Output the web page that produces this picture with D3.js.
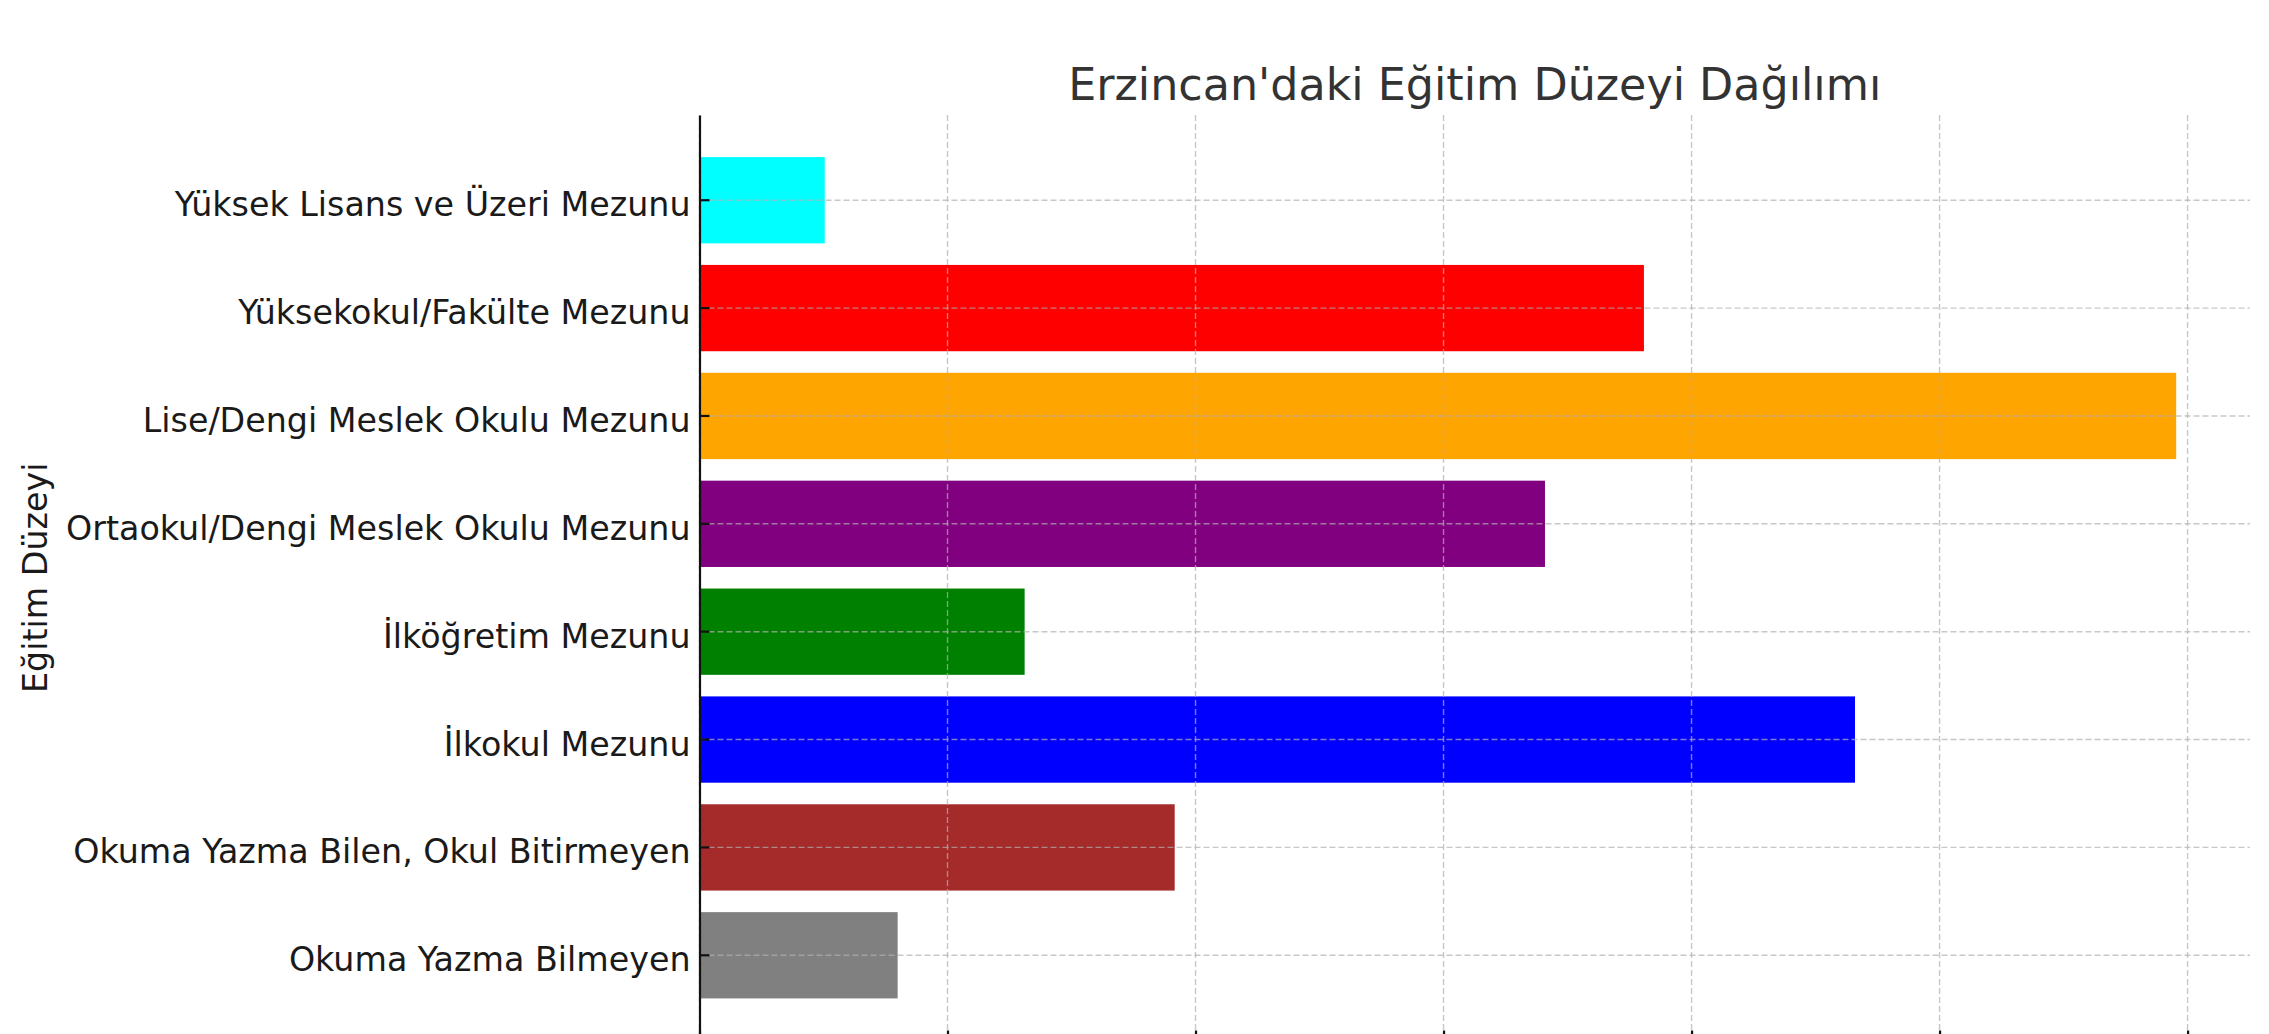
<!DOCTYPE html>
<html>
<head>
<meta charset="utf-8">
<script src="https://cdn.jsdelivr.net/npm/d3@7"></script>
<style>
  html, body { margin: 0; padding: 0; background: #fff; overflow: hidden; }
  svg { display: block; font-family: "DejaVu Sans", sans-serif; }
</style>
</head>
<body>
<svg id="chart" width="2269" height="1034"></svg>
<script>
// Data (bottom-to-top order, as drawn by the original barh)
const categories = [
  "Okuma Yazma Bilmeyen",
  "Okuma Yazma Bilen, Okul Bitirmeyen",
  "İlkokul Mezunu",
  "İlköğretim Mezunu",
  "Ortaokul/Dengi Meslek Okulu Mezunu",
  "Lise/Dengi Meslek Okulu Mezunu",
  "Yüksekokul/Fakülte Mezunu",
  "Yüksek Lisans ve Üzeri Mezunu"
];
const values = [7990, 19160, 46590, 13110, 34090, 59540, 38080, 5050];
const barColors = ["gray", "brown", "blue", "green", "purple", "orange", "red", "cyan"];
// x tick positions (their labels lie below the visible picture in the reference)
const xTicks = [0, 10000, 20000, 30000, 40000, 50000, 60000];
const titleText = "Erzincan'daki Eğitim Düzeyi Dağılımı";
const yLabelText = "Eğitim Düzeyi";

const W = 2269, H = 1034;
const m = { left: 699.5, right: 2250, top: 115, bottom: 1040.5 };

const svg = d3.select("#chart");

const x = d3.scaleLinear()
  .domain([0, d3.max(values) * 1.05])
  .range([m.left, m.right]);

const y = d3.scaleBand()
  .domain(categories.slice().reverse())
  .range([m.top, m.bottom])
  .paddingInner(0.2)
  .paddingOuter(0.39);

const data = categories.map((c, i) => ({ c, v: values[i], col: barColors[i] }));

// Bars
svg.append("g").selectAll("rect").data(data).join("rect")
  .attr("x", x(0))
  .attr("y", d => y(d.c))
  .attr("width", d => x(d.v) - x(0))
  .attr("height", y.bandwidth())
  .attr("fill", d => d.col);

// Grid (drawn above bars, semi-transparent)
const grid = svg.append("g").attr("stroke", "#b0b0b0").attr("stroke-opacity", 0.7)
  .attr("stroke-width", 1.4).attr("stroke-dasharray", "6,3").attr("fill", "none");
grid.selectAll("line.v").data(xTicks).join("line").attr("class", "v")
  .attr("x1", d => x(d)).attr("x2", d => x(d))
  .attr("y1", m.top).attr("y2", m.bottom);
grid.selectAll("line.h").data(categories).join("line").attr("class", "h")
  .attr("x1", m.left).attr("x2", m.right)
  .attr("y1", d => y(d) + y.bandwidth() / 2).attr("y2", d => y(d) + y.bandwidth() / 2);

// Y axis (ticks pointing inward)
const yAxis = d3.axisLeft(y).tickSizeInner(-10).tickSizeOuter(0).tickPadding(9);
const gy = svg.append("g").attr("transform", `translate(${m.left},0)`).call(yAxis);
gy.select(".domain").attr("stroke", "#111").attr("stroke-width", 2.2);
gy.selectAll(".tick line").attr("stroke", "#111").attr("stroke-width", 2.2);
gy.selectAll(".tick text")
  .attr("font-family", "DejaVu Sans")
  .attr("font-size", 33.3)
  .attr("fill", "#1a1a1a")
  .attr("dy", null)
  .attr("y", 16);

// X axis (ticks pointing inward; tick labels are outside the visible picture)
const xAxis = d3.axisBottom(x).tickValues(xTicks).tickSizeInner(-10).tickSizeOuter(0)
  .tickFormat("");
const gx = svg.append("g").attr("transform", `translate(0,${m.bottom})`).call(xAxis);
gx.select(".domain").attr("stroke", "#111").attr("stroke-width", 2.2);
gx.selectAll(".tick line").attr("stroke", "#111").attr("stroke-width", 2.2);
gx.selectAll(".tick text").remove();

// Title
svg.append("text")
  .attr("x", (m.left + m.right) / 2)
  .attr("y", 100)
  .attr("text-anchor", "middle")
  .attr("font-family", "DejaVu Sans")
  .attr("font-size", 44.4)
  .attr("fill", "#333333")
  .text(titleText);

// Y label
svg.append("text")
  .attr("transform", `translate(47,${(m.top + m.bottom) / 2}) rotate(-90)`)
  .attr("text-anchor", "middle")
  .attr("font-family", "DejaVu Sans")
  .attr("font-size", 33.3)
  .attr("fill", "#1a1a1a")
  .text(yLabelText);
</script>
</body>
</html>
